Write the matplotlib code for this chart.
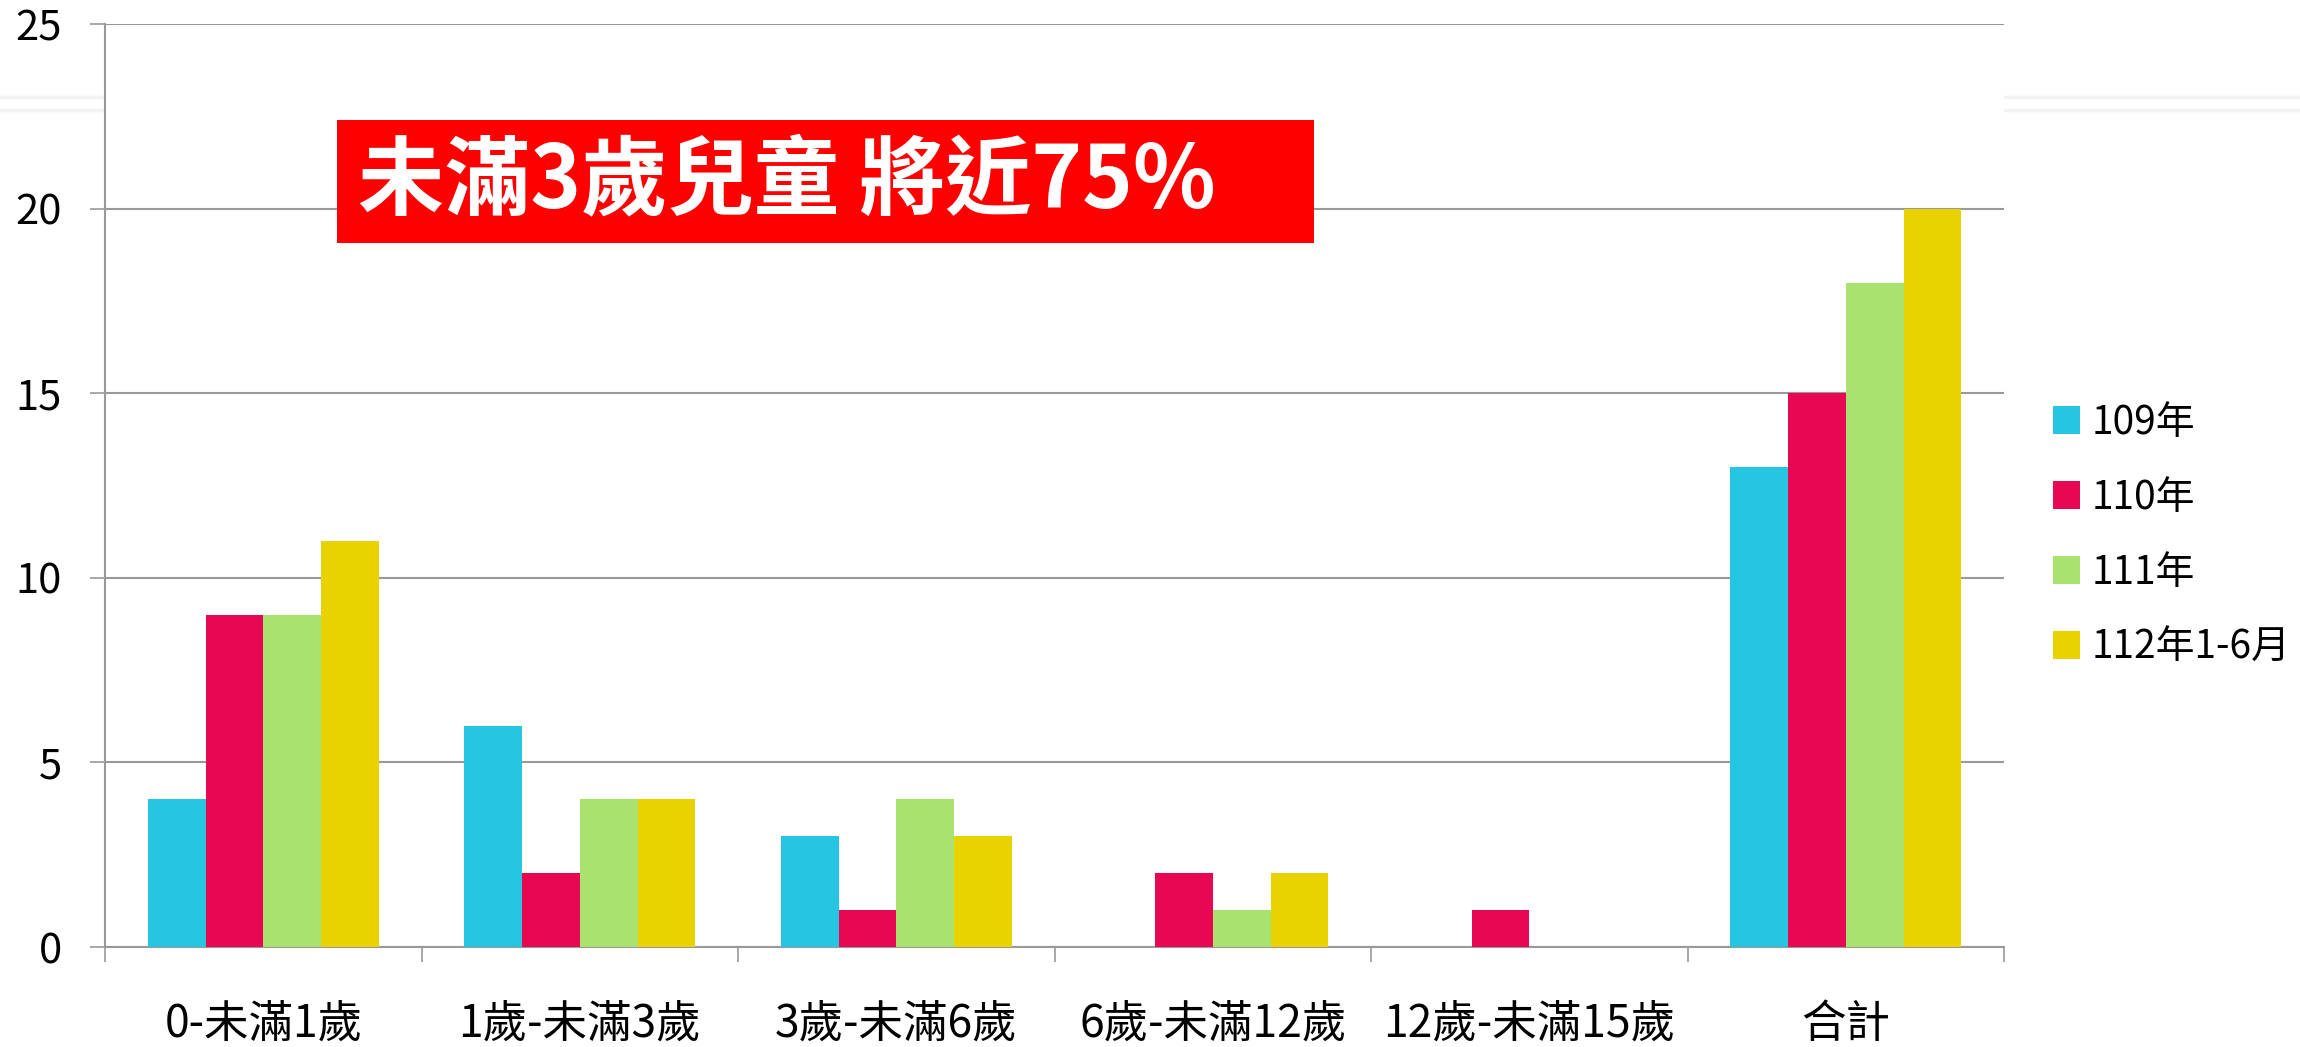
import matplotlib.pyplot as plt
from matplotlib.lines import Line2D
from matplotlib.patches import Rectangle
import numpy as np

plt.rcParams['font.family'] = ['Noto Sans CJK TC', 'DejaVu Sans']

categories = ['0-未滿1歲', '1歲-未滿3歲', '3歲-未滿6歲', '6歲-未滿12歲', '12歲-未滿15歲', '合計']
series_names = ['109年', '110年', '111年', '112年1-6月']
y109 = [4, 6, 3, 0, 0, 13]
y110 = [9, 2, 1, 2, 1, 15]
y111 = [9, 4, 4, 1, 0, 18]
y112 = [11, 4, 3, 2, 0, 20]
colors = ['#26C6E2', '#E80752', '#AAE270', '#E8D200']
title_text = '未滿3歲兒童 將近75%'

fig = plt.figure(figsize=(23, 10.47), dpi=100)
ax = fig.add_axes([0.0457, 0.0955, 0.8256, 0.8815])

x = np.arange(len(categories))
w = 0.1825
for i, vals in enumerate([y109, y110, y111, y112]):
    ax.bar(x + (i - 1.5) * w, vals, width=w, color=colors[i],
           label=series_names[i], zorder=3)

ax.set_xlim(-0.5, len(categories) - 0.5)
ax.set_ylim(0, 25)
ax.set_yticks([0, 5, 10, 15, 20, 25])
ax.yaxis.grid(True, color='#999999', linewidth=1.5, zorder=0)
ax.set_axisbelow(True)

ax.set_xticks(x)
ax.set_xticklabels(categories, fontsize=32)
ax.set_xticks(np.arange(len(categories) + 1) - 0.5, minor=True)
ax.tick_params(axis='x', which='major', length=0, pad=39)
ax.tick_params(axis='x', which='minor', length=11, width=1.2, color='#999999')
ax.tick_params(axis='y', length=11, width=1.2, color='#999999', pad=20, labelsize=30)

for s in ['top', 'right']:
    ax.spines[s].set_visible(False)
for s in ['left', 'bottom']:
    ax.spines[s].set_color('#999999')
    ax.spines[s].set_linewidth(1.5)

fig.legend(loc='center left', bbox_to_anchor=(0.8926, 0.489), frameon=False,
           fontsize=28, handlelength=0.7, handleheight=0.7, handletextpad=0.3,
           labelspacing=0.9, borderpad=0, borderaxespad=0)

# faint lines across the slide
for yy in [1 - 97 / 1047, 1 - 110 / 1047]:
    fig.add_artist(Line2D([0, 1], [yy, yy], transform=fig.transFigure,
                          color='#f2f2f2', linewidth=2.5, zorder=0))

# red callout
fig.add_artist(Rectangle((0.1465, 0.7679), 0.4248, 0.1175, transform=fig.transFigure,
                         facecolor='#FF0000', edgecolor='none', zorder=5))
fig.text(0.1557, 0.8266, title_text, color='white', fontsize=62, fontweight='bold',
         va='center', ha='left', zorder=6)

plt.savefig('out.png', dpi=100)
plt.close()
